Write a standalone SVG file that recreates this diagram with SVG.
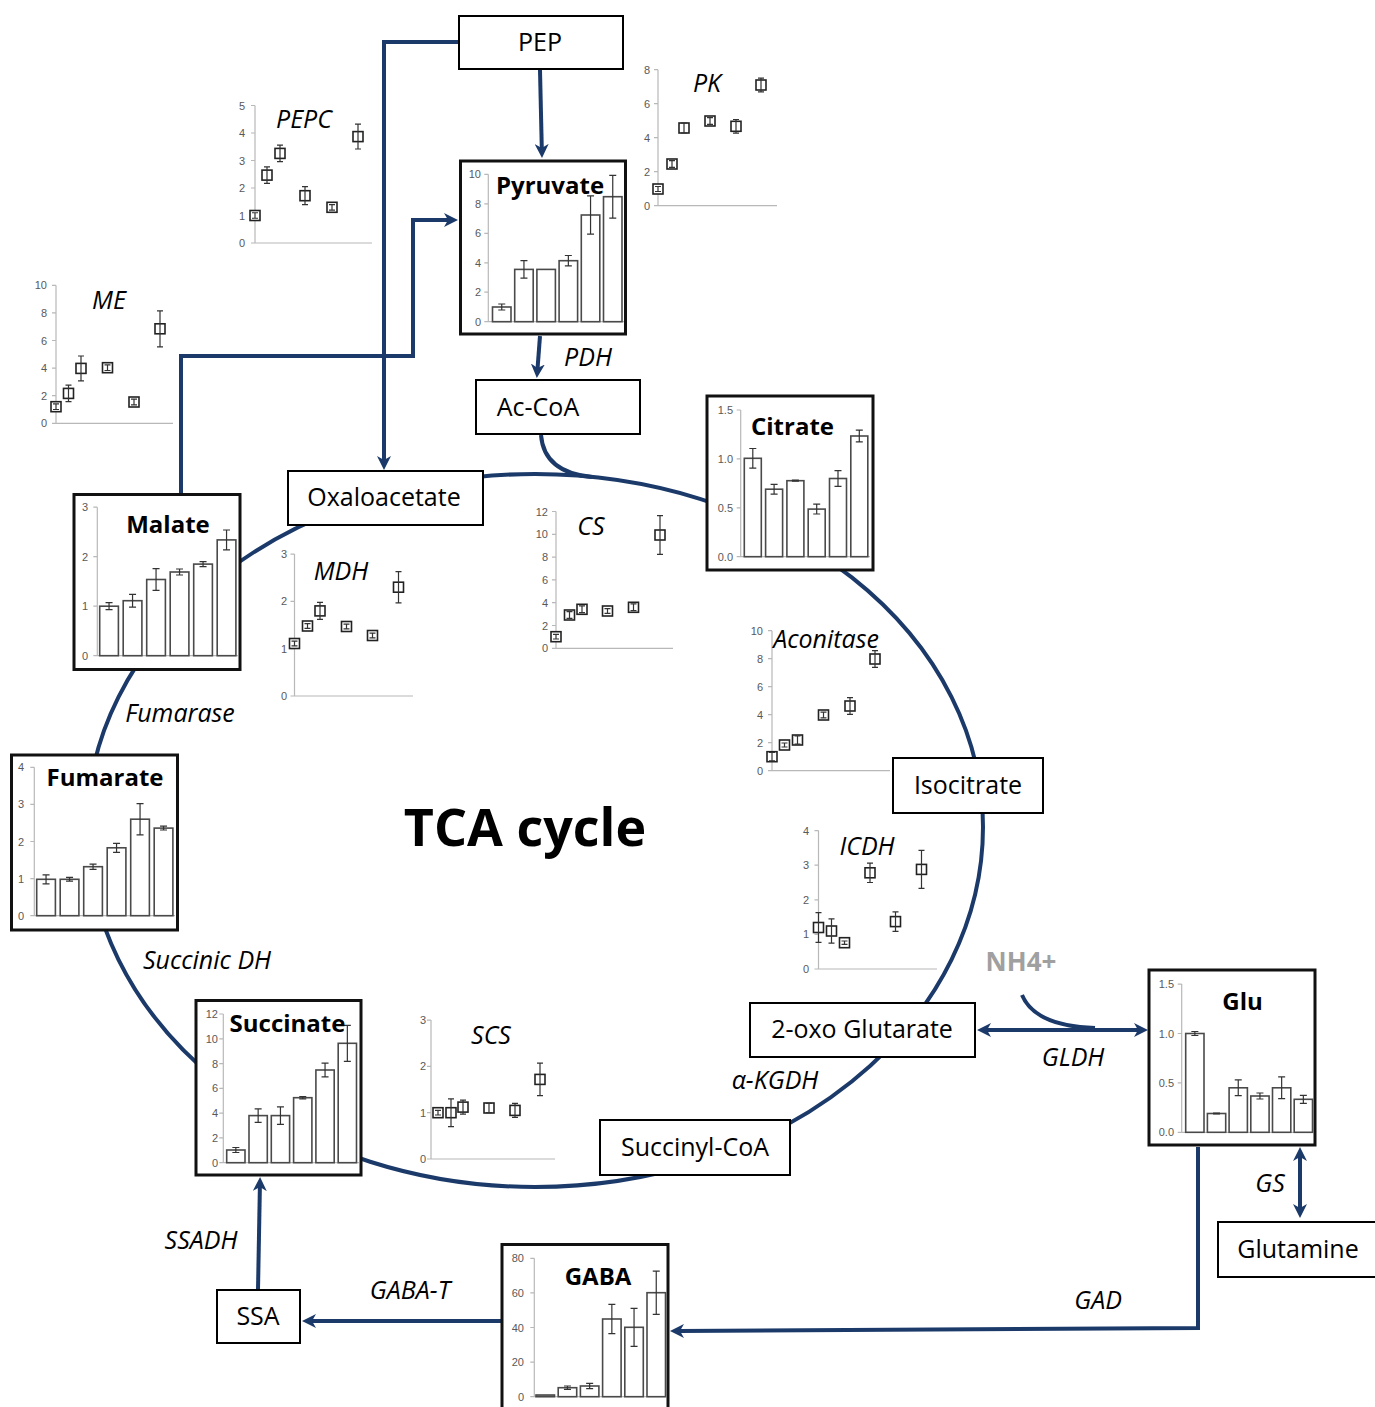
<svg xmlns="http://www.w3.org/2000/svg" width="1375" height="1407" viewBox="0 0 1375 1407">
<style>
.box{fill:#fff;stroke:#000;stroke-width:2}
.cbox{fill:#fff;stroke:#111;stroke-width:3}
.ax{stroke:#b8b8b8;stroke-width:1.2;fill:none}
.tk{font-family:"Liberation Sans",Arial,sans-serif;font-size:11px;fill:#595959;text-anchor:end}
.bar{fill:#fff;stroke:#4a4a4a;stroke-width:1.6}
.eb{stroke:#333;stroke-width:1.2;fill:none}
.mk{fill:#fff;stroke:#222;stroke-width:1.6}
.lbl{font-family:"Open Sans",sans-serif;font-size:25px;fill:#000;text-anchor:middle}
.ttl{font-family:"Open Sans",sans-serif;font-weight:bold;font-size:24px;fill:#000;text-anchor:middle}
.enz{font-family:"Open Sans",sans-serif;font-style:italic;font-size:25px;fill:#000;text-anchor:middle}
.con{stroke:#1b3a6a;stroke-width:4;fill:none}
</style>
<defs>
<marker id="ah" viewBox="0 0 14 14" refX="5" refY="7" markerWidth="14" markerHeight="14" markerUnits="userSpaceOnUse" orient="auto-start-reverse">
<path d="M0,0 L14,7 L0,14 L4,7 Z" fill="#1b3a6a"/>
</marker>
</defs>
<rect width="1375" height="1407" fill="#fff"/>

<g id="connectors">
<path class="con" d="M87,827 A448,353 0 0 1 983,827 A448,360 0 0 1 87,827 Z"/>
<path class="con" d="M541,435 C543,460 560,474 592,477"/>
<path class="con" d="M459,42 H384 V461" marker-end="url(#ah)"/>
<path class="con" d="M540,70 L541.8,149" marker-end="url(#ah)"/>
<path class="con" d="M181,493 V356 H413 V220 H449" marker-end="url(#ah)"/>
<path class="con" d="M540,336 L537.5,369" marker-end="url(#ah)"/>
<path class="con" d="M986,1030 H1139" marker-start="url(#ah)" marker-end="url(#ah)"/>
<path class="con" d="M1022,995 Q1035,1026 1095,1028"/>
<path class="con" d="M1300,1156 V1209" marker-start="url(#ah)" marker-end="url(#ah)"/>
<path class="con" d="M1198,1147 V1328 L679,1331" marker-end="url(#ah)"/>
<path class="con" d="M503,1321 H311" marker-end="url(#ah)"/>
<path class="con" d="M258,1290 L259.9,1186" marker-end="url(#ah)"/>
</g>

<g id="labels">
<text class="enz" x="588" y="366">PDH</text>
<text class="enz" x="180" y="722">Fumarase</text>
<text class="enz" x="207" y="969">Succinic DH</text>
<text class="enz" x="775" y="1089">α-KGDH</text>
<text class="enz" x="1073" y="1066">GLDH</text>
<text class="enz" x="1270" y="1192">GS</text>
<text class="enz" x="1098" y="1309">GAD</text>
<text class="enz" x="410" y="1299">GABA-T</text>
<text class="enz" x="201" y="1249">SSADH</text>
<text x="1021" y="971" font-family="Open Sans, sans-serif" font-weight="bold" font-size="26" fill="#a0a0a0" text-anchor="middle">NH4+</text>
<text x="525" y="846" font-family="Open Sans, sans-serif" font-weight="bold" font-size="52" fill="#000" text-anchor="middle">TCA cycle</text>
</g>

<g id="PEP"><rect class="box" x="459" y="16" width="164" height="53"/><text class="lbl" x="540" y="51">PEP</text></g>
<g id="AcCoA"><rect class="box" x="476" y="380" width="164" height="54"/><text class="lbl" x="538" y="416">Ac-CoA</text></g>
<g id="Oxaloacetate"><rect class="box" x="288" y="471" width="195" height="54"/><text class="lbl" x="384" y="506">Oxaloacetate</text></g>
<g id="Isocitrate"><rect class="box" x="893" y="758" width="150" height="55"/><text class="lbl" x="968" y="794">Isocitrate</text></g>
<g id="Oxoglutarate"><rect class="box" x="750" y="1003" width="225" height="54"/><text class="lbl" x="862" y="1038">2-oxo Glutarate</text></g>
<g id="SuccinylCoA"><rect class="box" x="600" y="1120" width="190" height="55"/><text class="lbl" x="695" y="1156">Succinyl-CoA</text></g>
<g id="Glutamine"><rect class="box" x="1218" y="1222" width="160" height="55"/><text class="lbl" x="1298" y="1258">Glutamine</text></g>
<g id="SSA"><rect class="box" x="217" y="1290" width="83" height="53"/><text class="lbl" x="258" y="1325">SSA</text></g>

<!-- scatter charts -->
<g id="PEPC">
<path class="ax" d="M255,105.5V243H372M251,243h4M251,215.5h4M251,188h4M251,160.5h4M251,133h4M251,105.5h4"/>
<text class="tk" x="245" y="247">0</text><text class="tk" x="245" y="219.5">1</text><text class="tk" x="245" y="192">2</text><text class="tk" x="245" y="164.5">3</text><text class="tk" x="245" y="137">4</text><text class="tk" x="245" y="109.5">5</text>
<rect class="mk" x="250" y="210.5" width="10" height="10"/><rect class="mk" x="262" y="170.1" width="10" height="10"/><rect class="mk" x="275" y="148.4" width="10" height="10"/><rect class="mk" x="300" y="190.7" width="10" height="10"/><rect class="mk" x="327" y="202.3" width="10" height="10"/><rect class="mk" x="353" y="131.6" width="10" height="10"/>
<path class="eb" d="M255,212.75V218.25M252,212.75h6M252,218.25h6M267,166.85V183.35M264,166.85h6M264,183.35h6M280,145.15V161.65M277,145.15h6M277,161.65h6M305,186.7V204.7M302,186.7h6M302,204.7h6M332,204.55V210.05M329,204.55h6M329,210.05h6M358,124.2V149M355,124.2h6M355,149h6"/>
<text class="enz" x="304" y="128">PEPC</text>
</g>

<g id="PK">
<path class="ax" d="M658,69.7V205.7H777M654,205.7h4M654,171.7h4M654,137.7h4M654,103.7h4M654,69.7h4"/>
<text class="tk" x="650" y="209.7">0</text><text class="tk" x="650" y="175.7">2</text><text class="tk" x="650" y="141.7">4</text><text class="tk" x="650" y="107.7">6</text><text class="tk" x="650" y="73.7">8</text>
<rect class="mk" x="653" y="184" width="10" height="10"/><rect class="mk" x="667" y="159" width="10" height="10"/><rect class="mk" x="679" y="123" width="10" height="10"/><rect class="mk" x="705" y="116" width="10" height="10"/><rect class="mk" x="731" y="121.3" width="10" height="10"/><rect class="mk" x="756" y="80" width="10" height="10"/>
<path class="eb" d="M658,186.5V191.5M655,186.5h6M655,191.5h6M672,160.6V167.4M669,160.6h6M669,167.4h6M684,123V133M681,123h6M681,133h6M710,117.6V124.4M707,117.6h6M707,124.4h6M736,119.5V133.1M733,119.5h6M733,133.1h6M761,78.2V91.8M758,78.2h6M758,91.8h6"/>
<text class="enz" x="707" y="92">PK</text>
</g>

<g id="ME">
<path class="ax" d="M56,285.3V423.3H173M52,423.3h4M52,395.7h4M52,368.1h4M52,340.5h4M52,312.9h4M52,285.3h4"/>
<text class="tk" x="47" y="427.3">0</text><text class="tk" x="47" y="399.7">2</text><text class="tk" x="47" y="372.1">4</text><text class="tk" x="47" y="344.5">6</text><text class="tk" x="47" y="316.9">8</text><text class="tk" x="47" y="289.3">10</text>
<rect class="mk" x="51" y="401.7" width="10" height="10"/><rect class="mk" x="63.5" y="388.4" width="10" height="10"/><rect class="mk" x="76" y="363.4" width="10" height="10"/><rect class="mk" x="102.5" y="362.7" width="10" height="10"/><rect class="mk" x="129" y="397" width="10" height="10"/><rect class="mk" x="155" y="323.8" width="10" height="10"/>
<path class="eb" d="M56,403.9V409.5M53,403.9h6M53,409.5h6M68.5,385.1V401.7M65.5,385.1h6M65.5,401.7h6M81,356V380.8M78,356h6M78,380.8h6M107.5,364.9V370.5M104.5,364.9h6M104.5,370.5h6M134,399.2V404.8M131,399.2h6M131,404.8h6M160,310.8V346.8M157,310.8h6M157,346.8h6"/>
<text class="enz" x="109" y="309">ME</text>
</g>

<g id="MDH">
<path class="ax" d="M294.5,554.1V696H413M290.5,696h4M290.5,648.7h4M290.5,601.4h4M290.5,554.1h4"/>
<text class="tk" x="287" y="700">0</text><text class="tk" x="287" y="652.7">1</text><text class="tk" x="287" y="605.4">2</text><text class="tk" x="287" y="558.1">3</text>
<rect class="mk" x="289.5" y="638.5" width="10" height="10"/><rect class="mk" x="302.5" y="621" width="10" height="10"/><rect class="mk" x="315" y="605.9" width="10" height="10"/><rect class="mk" x="341.5" y="621.5" width="10" height="10"/><rect class="mk" x="367.5" y="630.5" width="10" height="10"/><rect class="mk" x="393.5" y="582.2" width="10" height="10"/>
<path class="eb" d="M294.5,641.1V645.9M291.5,641.1h6M291.5,645.9h6M307.5,623.6V628.4M304.5,623.6h6M304.5,628.4h6M320,602.4V619.4M317,602.4h6M317,619.4h6M346.5,624.1V628.9M343.5,624.1h6M343.5,628.9h6M372.5,633.1V637.9M369.5,633.1h6M369.5,637.9h6M398.5,571.6V602.8M395.5,571.6h6M395.5,602.8h6"/>
<text class="enz" x="341" y="580">MDH</text>
</g>

<g id="CS">
<path class="ax" d="M556,511.5V648.3H673M552,648.3h4M552,625.5h4M552,602.7h4M552,579.9h4M552,557.1h4M552,534.3h4M552,511.5h4"/>
<text class="tk" x="548" y="652.3">0</text><text class="tk" x="548" y="629.5">2</text><text class="tk" x="548" y="606.7">4</text><text class="tk" x="548" y="583.9">6</text><text class="tk" x="548" y="561.1">8</text><text class="tk" x="548" y="538.3">10</text><text class="tk" x="548" y="515.5">12</text>
<rect class="mk" x="551" y="631.7" width="10" height="10"/><rect class="mk" x="564.5" y="610" width="10" height="10"/><rect class="mk" x="577" y="604.3" width="10" height="10"/><rect class="mk" x="602.5" y="606" width="10" height="10"/><rect class="mk" x="628.5" y="602.3" width="10" height="10"/><rect class="mk" x="655" y="530" width="10" height="10"/>
<path class="eb" d="M556,634.4V639M553,634.4h6M553,639h6M569.5,611.6V618.4M566.5,611.6h6M566.5,618.4h6M582,605.9V612.7M579,605.9h6M579,612.7h6M607.5,608.7V613.3M604.5,608.7h6M604.5,613.3h6M633.5,603.9V610.7M630.5,603.9h6M630.5,610.7h6M660,515.6V554.4M657,515.6h6M657,554.4h6"/>
<text class="enz" x="591" y="535">CS</text>
</g>

<g id="Aconitase">
<path class="ax" d="M772,630.7V770.7H890M768,770.7h4M768,742.7h4M768,714.7h4M768,686.7h4M768,658.7h4M768,630.7h4"/>
<text class="tk" x="763" y="774.7">0</text><text class="tk" x="763" y="746.7">2</text><text class="tk" x="763" y="718.7">4</text><text class="tk" x="763" y="690.7">6</text><text class="tk" x="763" y="662.7">8</text><text class="tk" x="763" y="634.7">10</text>
<rect class="mk" x="767" y="751.7" width="10" height="10"/><rect class="mk" x="779.5" y="740" width="10" height="10"/><rect class="mk" x="792.5" y="735" width="10" height="10"/><rect class="mk" x="818.5" y="710" width="10" height="10"/><rect class="mk" x="845" y="701" width="10" height="10"/><rect class="mk" x="870" y="654" width="10" height="10"/>
<path class="eb" d="M772,752.5V760.9M769,752.5h6M769,760.9h6M784.5,743V747M781.5,743h6M781.5,747h6M797.5,735.8V744.2M794.5,735.8h6M794.5,744.2h6M823.5,712.2V717.8M820.5,712.2h6M820.5,717.8h6M850,697.6V714.4M847,697.6h6M847,714.4h6M875,650.6V667.4M872,650.6h6M872,667.4h6"/>
<text class="enz" x="826" y="648">Aconitase</text>
</g>

<g id="ICDH">
<path class="ax" d="M818.5,830.6V969H937M814.5,969h4M814.5,934.4h4M814.5,899.8h4M814.5,865.2h4M814.5,830.6h4"/>
<text class="tk" x="809" y="973">0</text><text class="tk" x="809" y="938.4">1</text><text class="tk" x="809" y="903.8">2</text><text class="tk" x="809" y="869.2">3</text><text class="tk" x="809" y="834.6">4</text>
<rect class="mk" x="813.5" y="922.5" width="10" height="10"/><rect class="mk" x="826.5" y="926" width="10" height="10"/><rect class="mk" x="839.5" y="937.7" width="10" height="10"/><rect class="mk" x="865" y="867.8" width="10" height="10"/><rect class="mk" x="890.5" y="916.6" width="10" height="10"/><rect class="mk" x="916.5" y="864.4" width="10" height="10"/>
<path class="eb" d="M818.5,912.6V942.4M815.5,912.6h6M815.5,942.4h6M831.5,918.9V943.1M828.5,918.9h6M828.5,943.1h6M844.5,941V944.4M841.5,941h6M841.5,944.4h6M870,863.1V882.5M867,863.1h6M867,882.5h6M895.5,911.9V931.3M892.5,911.9h6M892.5,931.3h6M921.5,850.4V888.4M918.5,850.4h6M918.5,888.4h6"/>
<text class="enz" x="867" y="855">ICDH</text>
</g>

<g id="SCS">
<path class="ax" d="M431,1020.1V1159H555M427,1159h4M427,1112.7h4M427,1066.4h4M427,1020.1h4"/>
<text class="tk" x="426" y="1163">0</text><text class="tk" x="426" y="1116.7">1</text><text class="tk" x="426" y="1070.4">2</text><text class="tk" x="426" y="1024.1">3</text>
<rect class="mk" x="433" y="1107.7" width="10" height="10"/><rect class="mk" x="446" y="1107.7" width="10" height="10"/><rect class="mk" x="458" y="1102.1" width="10" height="10"/><rect class="mk" x="484" y="1103" width="10" height="10"/><rect class="mk" x="510" y="1105.4" width="10" height="10"/><rect class="mk" x="535" y="1074.4" width="10" height="10"/>
<path class="eb" d="M438,1110.4V1115M435,1110.4h6M435,1115h6M451,1098.8V1126.6M448,1098.8h6M448,1126.6h6M463,1100.1V1114.1M460,1100.1h6M460,1114.1h6M489,1103.4V1112.6M486,1103.4h6M486,1112.6h6M515,1103.4V1117.4M512,1103.4h6M512,1117.4h6M540,1063.2V1095.6M537,1063.2h6M537,1095.6h6"/>
<text class="enz" x="491" y="1044">SCS</text>
</g>

<!-- bar charts -->
<g id="Pyruvate">
<rect class="cbox" x="460.5" y="161" width="165" height="173"/>
<path class="ax" d="M488.3,174.3V321.7H624M484.3,321.7h4M484.3,292.2h4M484.3,262.8h4M484.3,233.3h4M484.3,203.8h4M484.3,174.3h4"/>
<text class="tk" x="481" y="325.7">0</text><text class="tk" x="481" y="296.2">2</text><text class="tk" x="481" y="266.8">4</text><text class="tk" x="481" y="237.3">6</text><text class="tk" x="481" y="207.8">8</text><text class="tk" x="481" y="178.3">10</text>
<rect class="bar" x="492.5" y="307" width="18.5" height="14.7"/><rect class="bar" x="514.7" y="269.4" width="18.5" height="52.3"/><rect class="bar" x="536.9" y="269.4" width="18.5" height="52.3"/><rect class="bar" x="559.1" y="260.7" width="18.5" height="61"/><rect class="bar" x="581.3" y="215" width="18.5" height="106.7"/><rect class="bar" x="603.5" y="196.7" width="18.5" height="125"/>
<path class="eb" d="M501.75,304V310M498.25,304h7M498.25,310h7M523.95,260.6V278.2M520.45,260.6h7M520.45,278.2h7M568.35,255.5V265.9M564.85,255.5h7M564.85,265.9h7M590.55,195.8V234.2M587.05,195.8h7M587.05,234.2h7M612.75,175.3V218.1M609.25,175.3h7M609.25,218.1h7"/>
<text class="ttl" x="550" y="193.5">Pyruvate</text>
</g>

<g id="Citrate">
<rect class="cbox" x="707" y="396" width="166" height="174"/>
<path class="ax" d="M740.7,410V556.7H870M736.7,556.7h4M736.7,507.8h4M736.7,458.9h4M736.7,410h4"/>
<text class="tk" x="733" y="560.7">0.0</text><text class="tk" x="733" y="511.8">0.5</text><text class="tk" x="733" y="462.9">1.0</text><text class="tk" x="733" y="414">1.5</text>
<rect class="bar" x="744.3" y="458.3" width="17" height="98.4"/><rect class="bar" x="765.6" y="489.2" width="17" height="67.5"/><rect class="bar" x="786.9" y="480.7" width="17" height="76"/><rect class="bar" x="808.2" y="509.1" width="17" height="47.6"/><rect class="bar" x="829.5" y="478.5" width="17" height="78.2"/><rect class="bar" x="850.8" y="436" width="17" height="120.7"/>
<path class="eb" d="M752.8,448.5V468.1M749.3,448.5h7M749.3,468.1h7M774.1,484.3V494.1M770.6,484.3h7M770.6,494.1h7M795.4,480.2V481.2M791.9,480.2h7M791.9,481.2h7M816.7,504.2V514M813.2,504.2h7M813.2,514h7M838,470.7V486.3M834.5,470.7h7M834.5,486.3h7M859.3,430.1V441.9M855.8,430.1h7M855.8,441.9h7"/>
<text class="ttl" x="792.5" y="435">Citrate</text>
</g>

<g id="Malate">
<rect class="cbox" x="74" y="494.5" width="166" height="175"/>
<path class="ax" d="M97.3,507.2V655.7H238M93.3,655.7h4M93.3,606.2h4M93.3,556.7h4M93.3,507.2h4"/>
<text class="tk" x="88" y="659.7">0</text><text class="tk" x="88" y="610.2">1</text><text class="tk" x="88" y="560.7">2</text><text class="tk" x="88" y="511.2">3</text>
<rect class="bar" x="99.7" y="606.2" width="18.7" height="49.5"/><rect class="bar" x="123.2" y="600.7" width="18.7" height="55"/><rect class="bar" x="146.7" y="579.5" width="18.7" height="76.2"/><rect class="bar" x="170.2" y="572" width="18.7" height="83.7"/><rect class="bar" x="193.7" y="564.1" width="18.7" height="91.6"/><rect class="bar" x="217.2" y="539.9" width="18.7" height="115.8"/>
<path class="eb" d="M109.05,602.7V609.7M105.55,602.7h7M105.55,609.7h7M132.55,594.3V607.1M129.05,594.3h7M129.05,607.1h7M156.05,568.6V590.4M152.55,568.6h7M152.55,590.4h7M179.55,569V575M176.05,569h7M176.05,575h7M203.05,561.6V566.6M199.55,561.6h7M199.55,566.6h7M226.55,530V549.8M223.05,530h7M223.05,549.8h7"/>
<text class="ttl" x="168" y="533">Malate</text>
</g>

<g id="Fumarate">
<rect class="cbox" x="11.5" y="755" width="166" height="175"/>
<path class="ax" d="M34.3,767.3V915.7H175M30.3,915.7h4M30.3,878.6h4M30.3,841.5h4M30.3,804.4h4M30.3,767.3h4"/>
<text class="tk" x="24" y="919.7">0</text><text class="tk" x="24" y="882.6">1</text><text class="tk" x="24" y="845.5">2</text><text class="tk" x="24" y="808.4">3</text><text class="tk" x="24" y="771.3">4</text>
<rect class="bar" x="36.7" y="879.3" width="18.7" height="36.4"/><rect class="bar" x="60.2" y="879.3" width="18.7" height="36.4"/><rect class="bar" x="83.7" y="866.7" width="18.7" height="49"/><rect class="bar" x="107.2" y="847.8" width="18.7" height="67.9"/><rect class="bar" x="130.7" y="819.2" width="18.7" height="96.5"/><rect class="bar" x="154.2" y="828.1" width="18.7" height="87.6"/>
<path class="eb" d="M46.05,874.8V883.8M42.55,874.8h7M42.55,883.8h7M69.55,877.4V881.2M66.05,877.4h7M66.05,881.2h7M93.05,864.1V869.3M89.55,864.1h7M89.55,869.3h7M116.55,843.3V852.3M113.05,843.3h7M113.05,852.3h7M140.05,803.6V834.8M136.55,803.6h7M136.55,834.8h7M163.55,826.2V830M160.05,826.2h7M160.05,830h7"/>
<text class="ttl" x="105" y="786">Fumarate</text>
</g>

<g id="Succinate">
<rect class="cbox" x="196" y="1000.5" width="165" height="174.5"/>
<path class="ax" d="M223.3,1014V1162.7H359M219.3,1162.7h4M219.3,1137.9h4M219.3,1113.1h4M219.3,1088.4h4M219.3,1063.6h4M219.3,1038.8h4M219.3,1014h4"/>
<text class="tk" x="218" y="1166.7">0</text><text class="tk" x="218" y="1141.9">2</text><text class="tk" x="218" y="1117.1">4</text><text class="tk" x="218" y="1092.4">6</text><text class="tk" x="218" y="1067.6">8</text><text class="tk" x="218" y="1042.8">10</text><text class="tk" x="218" y="1018">12</text>
<rect class="bar" x="226.7" y="1150" width="18.3" height="12.7"/><rect class="bar" x="249" y="1115.6" width="18.3" height="47.1"/><rect class="bar" x="271.3" y="1115.6" width="18.3" height="47.1"/><rect class="bar" x="293.6" y="1097.7" width="18.3" height="65"/><rect class="bar" x="315.9" y="1070" width="18.3" height="92.7"/><rect class="bar" x="338.2" y="1043.3" width="18.3" height="119.4"/>
<path class="eb" d="M235.85,1147.5V1152.5M232.35,1147.5h7M232.35,1152.5h7M258.15,1108.8V1122.4M254.65,1108.8h7M254.65,1122.4h7M280.45,1106.9V1124.3M276.95,1106.9h7M276.95,1124.3h7M302.75,1096.5V1098.9M299.25,1096.5h7M299.25,1098.9h7M325.05,1063.2V1076.8M321.55,1063.2h7M321.55,1076.8h7M347.35,1025.3V1061.3M343.85,1025.3h7M343.85,1061.3h7"/>
<text class="ttl" x="287.5" y="1032">Succinate</text>
</g>

<g id="Glu">
<rect class="cbox" x="1149" y="970" width="166" height="175"/>
<path class="ax" d="M1181.7,984.1V1132.3H1313M1177.7,1132.3h4M1177.7,1082.9h4M1177.7,1033.5h4M1177.7,984.1h4"/>
<text class="tk" x="1174" y="1136.3">0.0</text><text class="tk" x="1174" y="1086.9">0.5</text><text class="tk" x="1174" y="1037.5">1.0</text><text class="tk" x="1174" y="988.1">1.5</text>
<rect class="bar" x="1185.7" y="1033.5" width="18.3" height="98.8"/><rect class="bar" x="1207.4" y="1113.5" width="18.3" height="18.8"/><rect class="bar" x="1229.1" y="1087.8" width="18.3" height="44.5"/><rect class="bar" x="1250.8" y="1096" width="18.3" height="36.3"/><rect class="bar" x="1272.5" y="1087.8" width="18.3" height="44.5"/><rect class="bar" x="1294.2" y="1099.3" width="18.3" height="33"/>
<path class="eb" d="M1194.85,1031.5V1035.5M1191.35,1031.5h7M1191.35,1035.5h7M1216.55,1113V1114M1213.05,1113h7M1213.05,1114h7M1238.25,1079.9V1095.7M1234.75,1079.9h7M1234.75,1095.7h7M1259.95,1093V1099M1256.45,1093h7M1256.45,1099h7M1281.65,1076.9V1098.7M1278.15,1076.9h7M1278.15,1098.7h7M1303.35,1095.3V1103.3M1299.85,1095.3h7M1299.85,1103.3h7"/>
<text class="ttl" x="1242.5" y="1010">Glu</text>
</g>

<g id="GABA">
<rect class="cbox" x="502" y="1244.5" width="166" height="170"/>
<path class="ax" d="M534.3,1258.3V1396.7H666M530.3,1396.7h4M530.3,1362.1h4M530.3,1327.5h4M530.3,1292.9h4M530.3,1258.3h4"/>
<text class="tk" x="524" y="1400.7">0</text><text class="tk" x="524" y="1366.1">20</text><text class="tk" x="524" y="1331.5">40</text><text class="tk" x="524" y="1296.9">60</text><text class="tk" x="524" y="1262.3">80</text>
<rect class="bar" x="536" y="1395" width="18.5" height="1.7"/><rect class="bar" x="558.2" y="1387.7" width="18.5" height="9"/><rect class="bar" x="580.4" y="1386" width="18.5" height="10.7"/><rect class="bar" x="602.6" y="1319" width="18.5" height="77.7"/><rect class="bar" x="624.8" y="1327.3" width="18.5" height="69.4"/><rect class="bar" x="647" y="1292.7" width="18.5" height="104"/>
<path class="eb" d="M567.45,1386V1389.4M563.95,1386h7M563.95,1389.4h7M589.65,1383.4V1388.6M586.15,1383.4h7M586.15,1388.6h7M611.85,1304.3V1333.7M608.35,1304.3h7M608.35,1333.7h7M634.05,1308.3V1346.3M630.55,1308.3h7M630.55,1346.3h7M656.25,1271.1V1314.3M652.75,1271.1h7M652.75,1314.3h7"/>
<text class="ttl" x="598" y="1285">GABA</text>
</g>
</svg>
